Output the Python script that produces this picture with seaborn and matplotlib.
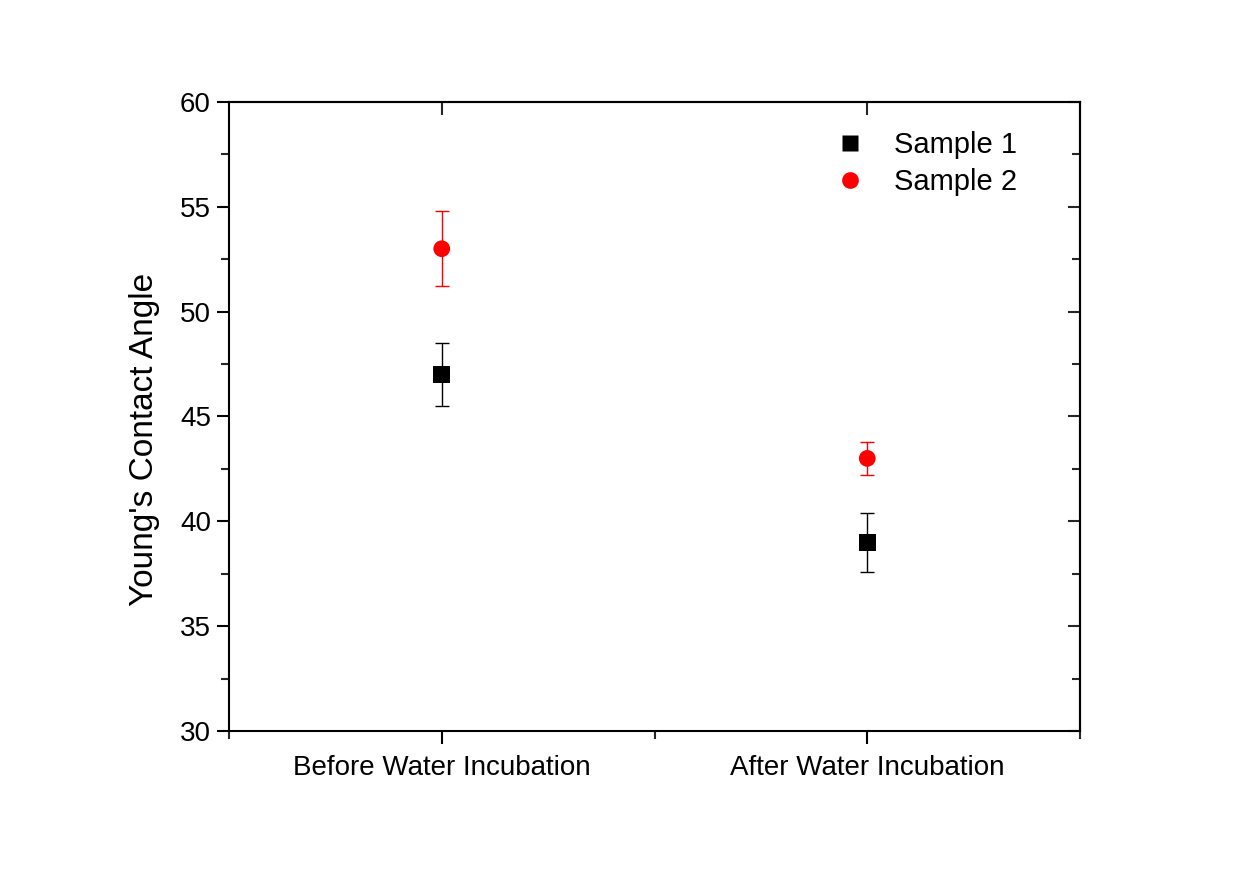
import numpy as np
import pandas as pd
import matplotlib
matplotlib.use("Agg")
import matplotlib.pyplot as plt
import seaborn as sns

# data
conditions = ["Before Water Incubation", "After Water Incubation"]
samples = ["Sample 1", "Sample 2"]
sample1_mean = [47.0, 39.0]
sample1_err = [1.5, 1.4]
sample2_mean = [53.0, 43.0]
sample2_err = [1.8, 0.8]
y_ticks = [30, 35, 40, 45, 50, 55, 60]

colors = {"Sample 1": "black", "Sample 2": "#ff0000"}
markers = {"Sample 1": "s", "Sample 2": "o"}

sns.set_style("white")
plt.rcParams['font.family'] = ['Liberation Sans', 'DejaVu Sans']
plt.rcParams['text.color'] = 'black'
plt.rcParams['axes.labelcolor'] = 'black'

pos = np.arange(len(conditions))
df = pd.DataFrame({
    "pos": np.concatenate([pos, pos]),
    "angle": sample1_mean + sample2_mean,
    "err": sample1_err + sample2_err,
    "sample": [samples[0]] * len(conditions) + [samples[1]] * len(conditions),
})

fig = plt.figure(figsize=(12.43, 8.73), dpi=100)
ax = fig.add_axes([0.1842, 0.1627, 0.6847, 0.7205])

# error bars first, markers on top
for name, grp in df.groupby("sample"):
    ax.errorbar(grp["pos"], grp["angle"], yerr=grp["err"], fmt="none",
                ecolor=colors[name], elinewidth=1, capsize=5, capthick=1, zorder=2)

sns.scatterplot(data=df, x="pos", y="angle", hue="sample", style="sample",
                palette=colors, markers=markers, s=145, edgecolor="none",
                ax=ax, zorder=3)

ax.set_xlim(-0.5, 1.5)
ax.set_ylim(30, 60)
ax.set_xticks(pos)
ax.set_xticklabels(conditions)
ax.set_xticks([-0.5, 0.5, 1.5], minor=True)
ax.set_yticks(y_ticks)
ax.set_yticks(np.arange(32.5, 60, 5), minor=True)
ax.set_xlabel("")
ax.set_ylabel("Young's Contact Angle", fontsize=24)
ax.yaxis.set_label_coords(-0.081, 0.463)

for sp in ax.spines.values():
    sp.set_visible(True)
    sp.set_linewidth(1.5)
    sp.set_color("black")

ax.tick_params(axis="both", which="major", direction="out", length=9, width=1.5,
               labelsize=20, colors="black", left=True, bottom=True, pad=4)
ax.tick_params(axis="x", which="major", pad=8)
ax.tick_params(axis="both", which="minor", direction="out", length=5.5, width=1.5,
               left=True, bottom=True)

# inward ticks on the right and top sides
ry = ax.secondary_yaxis("right")
ry.set_yticks(y_ticks)
ry.set_yticks(np.arange(32.5, 60, 5), minor=True)
ry.tick_params(which="major", direction="in", length=9, width=1.5, labelright=False)
ry.tick_params(which="minor", direction="in", length=5.5, width=1.5)
ry.spines["right"].set_linewidth(1.5)

tx = ax.secondary_xaxis("top")
tx.set_xticks(pos)
tx.tick_params(which="major", direction="in", length=9, width=1.5, labeltop=False)
tx.spines["top"].set_linewidth(1.5)

ax.legend(loc="upper left", bbox_to_anchor=(0.7126, 0.954), frameon=False,
          fontsize=21, borderaxespad=0, borderpad=0, handlelength=1,
          handletextpad=1.0, labelspacing=0.32, markerscale=1.0)

fig.savefig("out.png", dpi=100, facecolor="white")
